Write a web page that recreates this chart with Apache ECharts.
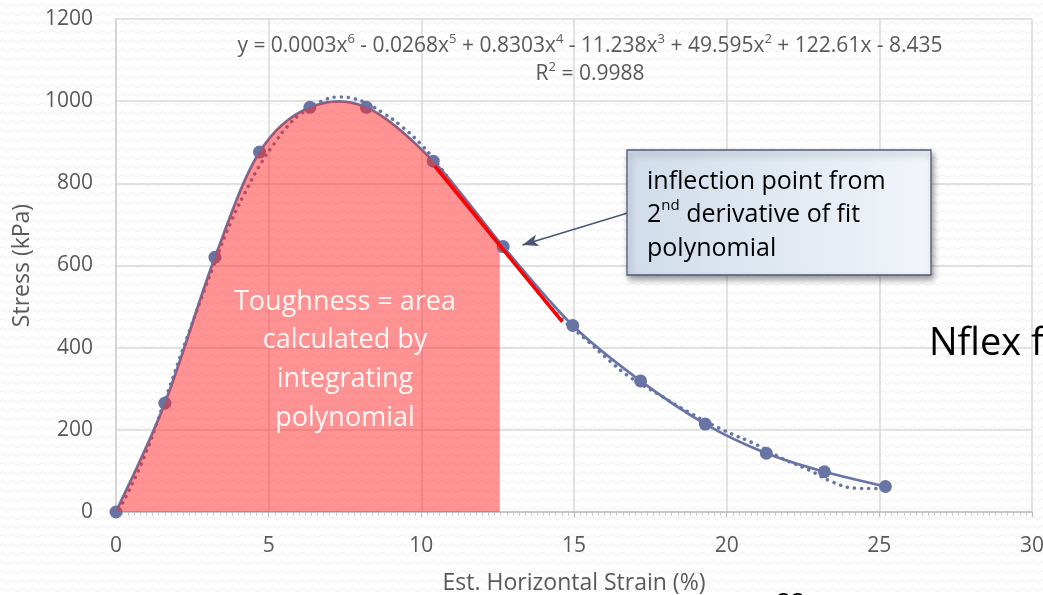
<!DOCTYPE html>
<html>
<head>
<meta charset="utf-8">
<script src="https://cdn.jsdelivr.net/npm/echarts@6/dist/echarts.min.js"></script>
<style>
  html, body { margin: 0; padding: 0; }
  body {
    width: 1043px; height: 595px; overflow: hidden;
    background-color: #ffffff;
    background-image: url("data:image/svg+xml,%3Csvg xmlns='http://www.w3.org/2000/svg' width='10' height='9'%3E%3Cpath d='M0 5 Q2.5 2 5 5 T10 5' fill='none' stroke='%23ededed' stroke-width='1'/%3E%3C/svg%3E");
  }
  #chart { width: 1043px; height: 595px; }
</style>
</head>
<body>
<div id="chart"></div>
<script>
// Measured stress-strain points (smoothed solid curve with markers)
const strain = [0, 1.6, 3.24, 4.7, 6.35, 8.2, 10.39, 12.68, 14.96, 17.18, 19.3, 21.3, 23.2, 25.2];
const stress = [0, 265, 620, 876, 985, 985, 854, 646, 454, 319, 214, 143, 98, 62];

// 6th-order polynomial trendline (dotted)
const fitStrain = [0, 0.8, 1.6, 2.4, 3.2, 3.8, 4.33, 4.71, 5.26, 5.6, 6.0, 6.8, 7.35, 7.8, 8.2, 8.75, 9.3, 9.95, 10.5, 11.5, 12.5, 13.5, 14.5, 15.3, 16.2, 16.8, 17.8, 18.8, 19.9, 21.0, 21.8, 22.7, 23.5, 24.25, 24.85, 25.2];
const fitStress = [-8, 112, 272, 440, 600, 712, 792, 844, 905, 937, 966, 1002, 1010, 1006, 995, 971, 942, 898, 850, 752, 658, 565, 478, 426, 366, 330, 285, 241, 199, 163, 131, 102, 72, 58, 57, 59];

// Upper strain bound of the integrated (toughness) region
const toughnessLimit = 12.57;

// Tangent through the inflection point
const tangentStrain = [10.44, 14.62];
const tangentStress = [842, 463];

// Callout arrow (tail at the box, head at the inflection point)
const arrowTail = [16.73, 727];
const arrowHead = [13.31, 650];

// Axis ticks
const xTicks = [0, 5, 10, 15, 20, 25, 30];
const yTicks = [0, 200, 400, 600, 800, 1000, 1200];

const FONT = '"Open Sans", "Liberation Sans", sans-serif';
const GREY = '#595959';
const BLUE = '#6874a4';

const pairs = (xs, ys) => xs.map((x, i) => [x, ys[i]]);

// Cardinal (Catmull-Rom style) Bezier segments through pixel points
function bezierSegments(pts) {
  const segs = [];
  for (let i = 0; i < pts.length - 1; i++) {
    const p0 = pts[i - 1] || pts[i], p1 = pts[i], p2 = pts[i + 1], p3 = pts[i + 2] || pts[i + 1];
    const c1 = [p1[0] + (p2[0] - p0[0]) / 6, p1[1] + (p2[1] - p0[1]) / 6];
    const c2 = [p2[0] - (p3[0] - p1[0]) / 6, p2[1] - (p3[1] - p1[1]) / 6];
    segs.push([p1, c1, c2, p2]);
  }
  return segs;
}
const lerp = (a, b, t) => [a[0] + (b[0] - a[0]) * t, a[1] + (b[1] - a[1]) * t];
const fmt = p => p[0].toFixed(2) + ',' + p[1].toFixed(2);

function curvePixels(api) {
  return strain.map((x, i) => api.coord([x, stress[i]]));
}

const chart = echarts.init(document.getElementById('chart'), null, { renderer: 'canvas' });

chart.setOption({
  animation: false,
  backgroundColor: 'transparent',
  grid: { left: 116, right: 11, top: 19, bottom: 83, outerBoundsMode: 'none', containLabel: false },
  xAxis: {
    type: 'value',
    min: xTicks[0], max: xTicks[xTicks.length - 1], interval: xTicks[1] - xTicks[0],
    name: 'Est. Horizontal Strain (%)',
    nameLocation: 'middle', nameGap: 60,
    nameTextStyle: { color: GREY, fontSize: 23, fontFamily: FONT },
    axisLine: { show: true, onZero: true, lineStyle: { color: '#bfbfbf', width: 1.5 } },
    axisTick: { show: true, length: 5, lineStyle: { color: '#bfbfbf', width: 1.3 } },
    minorTick: { show: true, splitNumber: 25, length: 3.5, lineStyle: { color: '#c4c4c4', width: 1 } },
    axisLabel: { color: GREY, fontSize: 21, fontFamily: FONT, margin: 24, formatter: v => String(v) },
    splitLine: { show: true, lineStyle: { color: '#d9d9d9', width: 1.5 } },
    minorSplitLine: { show: false }
  },
  yAxis: {
    type: 'value',
    min: yTicks[0], max: yTicks[yTicks.length - 1], interval: yTicks[1] - yTicks[0],
    name: 'Stress (kPa)',
    nameLocation: 'middle', nameGap: 74, nameRotate: 90,
    nameTextStyle: { color: GREY, fontSize: 23, fontFamily: FONT },
    axisLine: { show: true, lineStyle: { color: '#d0d0d0', width: 1.5 } },
    axisTick: { show: false },
    axisLabel: { color: GREY, fontSize: 21, fontFamily: FONT, margin: 23, formatter: v => String(v) },
    splitLine: { show: true, lineStyle: { color: '#d9d9d9', width: 1.5 } }
  },
  series: [
    {
      name: 'Poly. fit',
      type: 'line',
      data: pairs(fitStrain, fitStress),
      smooth: true,
      showSymbol: false,
      symbol: 'none',
      z: 2,
      lineStyle: { color: BLUE, width: 3.5, type: [0.1, 7], cap: 'round' }
    },
    {
      // smoothed curve through the measured points
      name: 'Stress curve',
      type: 'custom',
      data: [0],
      z: 2,
      renderItem: (params, api) => {
        const segs = bezierSegments(curvePixels(api));
        let d = 'M' + fmt(segs[0][0]);
        segs.forEach(s => { d += ' C' + fmt(s[1]) + ' ' + fmt(s[2]) + ' ' + fmt(s[3]); });
        return {
          type: 'path',
          shape: { pathData: d },
          style: { fill: 'none', stroke: BLUE, lineWidth: 2.75 }
        };
      }
    },
    {
      name: 'Stress',
      type: 'scatter',
      data: pairs(strain, stress),
      symbol: 'circle',
      symbolSize: 13,
      z: 2,
      itemStyle: { color: BLUE, opacity: 1 }
    },
    {
      // area under the curve up to the toughness limit
      name: 'Toughness',
      type: 'custom',
      data: [0],
      z: 3,
      renderItem: (params, api) => {
        const segs = bezierSegments(curvePixels(api));
        const limitX = api.coord([toughnessLimit, 0])[0];
        const base = api.coord([0, 0]);
        let d = 'M' + fmt(segs[0][0]);
        let endX = segs[0][0][0];
        for (const s of segs) {
          if (s[3][0] <= limitX) {
            d += ' C' + fmt(s[1]) + ' ' + fmt(s[2]) + ' ' + fmt(s[3]);
            endX = s[3][0];
            continue;
          }
          // split this segment where it reaches the limit
          let lo = 0, hi = 1;
          const bx = t => {
            const a = lerp(s[0], s[1], t), b = lerp(s[1], s[2], t), c = lerp(s[2], s[3], t);
            return lerp(lerp(a, b, t), lerp(b, c, t), t);
          };
          for (let k = 0; k < 40; k++) {
            const m = (lo + hi) / 2;
            if (bx(m)[0] < limitX) lo = m; else hi = m;
          }
          const t = (lo + hi) / 2;
          const a = lerp(s[0], s[1], t), b = lerp(s[1], s[2], t);
          const q2 = lerp(a, b, t);
          const e = bx(t);
          d += ' C' + fmt(a) + ' ' + fmt(q2) + ' ' + fmt(e);
          endX = e[0];
          break;
        }
        d += ' L' + fmt([endX, base[1]]) + ' L' + fmt([segs[0][0][0], base[1]]) + ' Z';
        return {
          type: 'path',
          shape: { pathData: d },
          style: { fill: 'rgba(255, 40, 40, 0.5)', stroke: 'none' }
        };
      }
    },
    {
      name: 'Tangent',
      type: 'line',
      data: pairs(tangentStrain, tangentStress),
      symbol: 'none',
      z: 4,
      lineStyle: { color: '#ff0000', width: 3.5 }
    },
    {
      name: 'Callout',
      type: 'line',
      data: [],
      z: 5,
      markLine: {
        silent: true,
        animation: false,
        symbol: ['none', 'arrow'],
        symbolSize: [9, 16],
        label: { show: false },
        lineStyle: { color: '#4a5677', width: 1.5, type: 'solid' },
        data: [[{ coord: arrowTail }, { coord: arrowHead }]]
      }
    }
  ],
  graphic: [
    {
      type: 'text', x: 590, y: 46, z: 10,
      style: {
        text: 'y = 0.0003x{s|6} - 0.0268x{s|5} + 0.8303x{s|4} - 11.238x{s|3} + 49.595x{s|2} + 122.61x - 8.435',
        fill: GREY, fontSize: 21, fontFamily: FONT, lineHeight: 26,
        align: 'center', verticalAlign: 'middle',
        rich: { s: { fontSize: 13, lineHeight: 17, verticalAlign: 'top', fill: GREY, fontFamily: FONT } }
      }
    },
    {
      type: 'text', x: 590, y: 74, z: 10,
      style: {
        text: 'R{s|2} = 0.9988',
        fill: GREY, fontSize: 21, fontFamily: FONT, lineHeight: 26,
        align: 'center', verticalAlign: 'middle',
        rich: { s: { fontSize: 13, lineHeight: 17, verticalAlign: 'top', fill: GREY, fontFamily: FONT } }
      }
    },
    {
      type: 'rect', z: 20,
      shape: { x: 627, y: 150, width: 304, height: 125 },
      style: {
        fill: new echarts.graphic.LinearGradient(0, 0, 1, 0, [
          { offset: 0, color: '#d0dcea' },
          { offset: 1, color: '#f2f5fa' }
        ]),
        stroke: '#4d5b7a', lineWidth: 1.3,
        shadowBlur: 6, shadowOffsetX: 2, shadowOffsetY: 4, shadowColor: 'rgba(0,0,0,0.4)'
      }
    },
    {
      type: 'text', x: 647, y: 165, z: 21,
      style: {
        text: 'inflection point from\n2{s|nd} derivative of fit\npolynomial',
        fill: '#000000', fontSize: 25, fontFamily: FONT, lineHeight: 33.5,
        align: 'left', verticalAlign: 'top',
        rich: { s: { fontSize: 15, lineHeight: 21, verticalAlign: 'top', fill: '#000000', fontFamily: FONT } }
      }
    },
    {
      type: 'text', x: 345, y: 360, z: 10,
      style: {
        text: 'Toughness = area\ncalculated by\nintegrating\npolynomial',
        fill: 'rgba(255,255,255,0.93)', fontSize: 27, fontFamily: FONT, lineHeight: 38.7,
        align: 'center', verticalAlign: 'middle'
      }
    },
    {
      type: 'text', x: 929, y: 344, z: 10,
      style: {
        text: 'Nflex f', fill: '#000000', fontSize: 38, fontFamily: FONT,
        align: 'left', verticalAlign: 'middle'
      }
    },
    {
      type: 'text', x: 791, y: 591.5, z: 10,
      style: {
        text: '22', fill: '#000000', fontSize: 25, fontFamily: FONT,
        align: 'center', verticalAlign: 'top'
      }
    }
  ]
});
</script>
</body>
</html>
